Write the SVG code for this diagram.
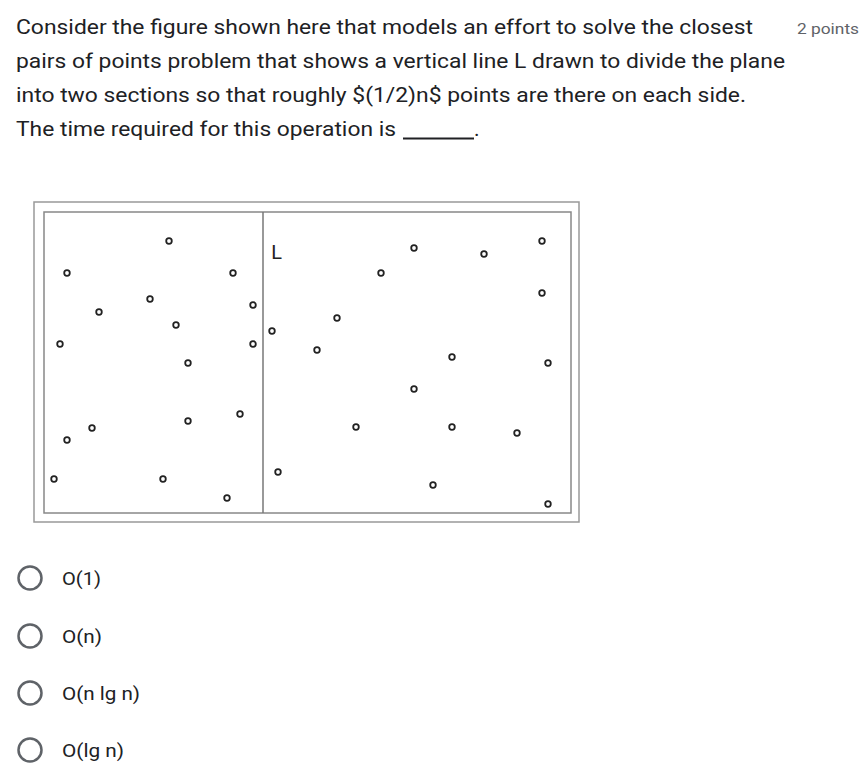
<svg xmlns="http://www.w3.org/2000/svg" width="867" height="774" viewBox="0 0 867 774">
<style>
.q{font-family:Roboto,"Liberation Sans",sans-serif;font-size:21px;fill:#202124}
.pts{font-family:Roboto,"Liberation Sans",sans-serif;font-size:15.5px;fill:#5f6368}
.opt{font-family:Roboto,"Liberation Sans",sans-serif;font-size:18.5px;fill:#202124}
.radio{fill:none;stroke:#5f6368;stroke-width:2.5}
.p{fill:#fff;stroke:#222;stroke-width:1.8}
</style>
<rect width="867" height="774" fill="#fff"/>
<g id="question">
<text class="q" x="16" y="34" textLength="737" lengthAdjust="spacingAndGlyphs">Consider the figure shown here that models an effort to solve the closest</text>
<text class="q" x="16" y="68" textLength="769" lengthAdjust="spacingAndGlyphs">pairs of points problem that shows a vertical line L drawn to divide the plane</text>
<text class="q" x="16" y="102" textLength="730" lengthAdjust="spacingAndGlyphs">into two sections so that roughly $(1/2)n$ points are there on each side.</text>
<text class="q" x="16" y="136" textLength="380" lengthAdjust="spacingAndGlyphs">The time required for this operation is</text>
<line x1="403" y1="138.5" x2="474" y2="138.5" stroke="#202124" stroke-width="1.8"/>
<text class="q" x="474" y="136">.</text>
<text class="pts" x="797" y="34" textLength="62" lengthAdjust="spacingAndGlyphs">2 points</text>
</g>
<g id="figure">
<rect x="34" y="202" width="545" height="320" fill="#fff" stroke="#999" stroke-width="1.5"/>
<rect x="44" y="212" width="527" height="301" fill="#fff" stroke="#888" stroke-width="1.5"/>
<line x1="263" y1="212" x2="263" y2="513" stroke="#777" stroke-width="1.5"/>
<text x="271" y="259" font-family="'DejaVu Sans',sans-serif" font-size="19" fill="#222">L</text>
<g id="points">
<circle class="p" cx="169" cy="241" r="2.8"/>
<circle class="p" cx="67" cy="273" r="2.8"/>
<circle class="p" cx="233" cy="273" r="2.8"/>
<circle class="p" cx="150" cy="299" r="2.8"/>
<circle class="p" cx="99" cy="312" r="2.8"/>
<circle class="p" cx="176" cy="325" r="2.8"/>
<circle class="p" cx="253" cy="305" r="2.8"/>
<circle class="p" cx="253" cy="344" r="2.8"/>
<circle class="p" cx="60" cy="344" r="2.8"/>
<circle class="p" cx="188" cy="363" r="2.8"/>
<circle class="p" cx="240" cy="414" r="2.8"/>
<circle class="p" cx="188" cy="421" r="2.8"/>
<circle class="p" cx="92" cy="428" r="2.8"/>
<circle class="p" cx="67" cy="440" r="2.8"/>
<circle class="p" cx="54" cy="479" r="2.8"/>
<circle class="p" cx="163" cy="479" r="2.8"/>
<circle class="p" cx="227" cy="498" r="2.8"/>
<circle class="p" cx="272" cy="331" r="2.8"/>
<circle class="p" cx="278" cy="472" r="2.8"/>
<circle class="p" cx="414" cy="248" r="2.8"/>
<circle class="p" cx="484" cy="254" r="2.8"/>
<circle class="p" cx="542" cy="241" r="2.8"/>
<circle class="p" cx="381" cy="273" r="2.8"/>
<circle class="p" cx="542" cy="293" r="2.8"/>
<circle class="p" cx="337" cy="318" r="2.8"/>
<circle class="p" cx="317" cy="350" r="2.8"/>
<circle class="p" cx="452" cy="357" r="2.8"/>
<circle class="p" cx="548" cy="363" r="2.8"/>
<circle class="p" cx="414" cy="389" r="2.8"/>
<circle class="p" cx="356" cy="427" r="2.8"/>
<circle class="p" cx="452" cy="427" r="2.8"/>
<circle class="p" cx="517" cy="433" r="2.8"/>
<circle class="p" cx="433" cy="485" r="2.8"/>
<circle class="p" cx="548" cy="504" r="2.8"/>
</g>
</g>
<g id="opt1"><circle class="radio" cx="30" cy="578" r="11.5"/><text class="opt" x="62" y="585" textLength="39" lengthAdjust="spacingAndGlyphs">O(1)</text></g>
<g id="opt2"><circle class="radio" cx="30" cy="636" r="11.5"/><text class="opt" x="62" y="643" textLength="40" lengthAdjust="spacingAndGlyphs">O(n)</text></g>
<g id="opt3"><circle class="radio" cx="30" cy="693" r="11.5"/><text class="opt" x="62" y="700" textLength="78" lengthAdjust="spacingAndGlyphs">O(n lg n)</text></g>
<g id="opt4"><circle class="radio" cx="30" cy="750" r="11.5"/><text class="opt" x="62" y="757" textLength="62" lengthAdjust="spacingAndGlyphs">O(lg n)</text></g>
</svg>
